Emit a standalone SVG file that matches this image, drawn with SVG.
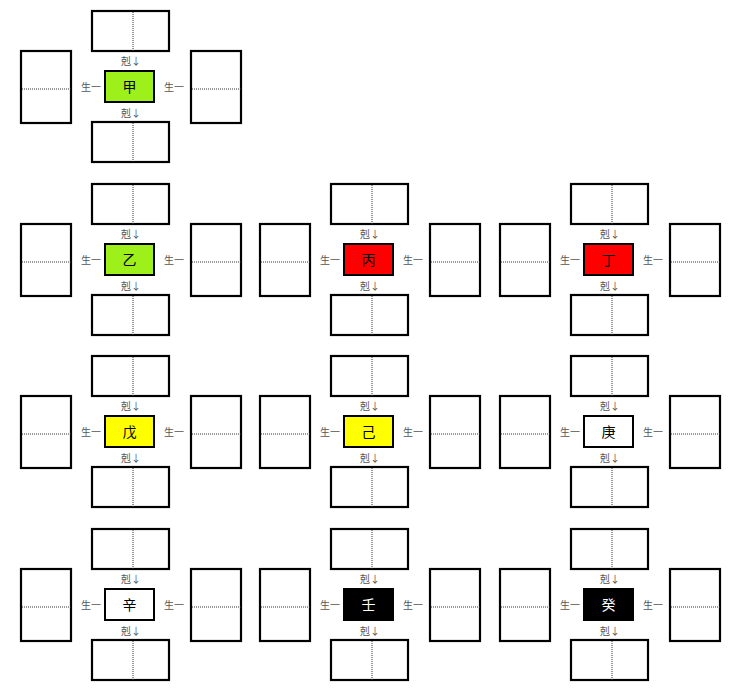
<svg xmlns="http://www.w3.org/2000/svg" xmlns:xlink="http://www.w3.org/1999/xlink" width="736" height="700" viewBox="0 0 736 700">
<style>
.box{fill:#fff;stroke:#000;stroke-width:2.2}
.dot{stroke:#333;stroke-width:1;stroke-dasharray:1 1;fill:none}
.lbl{font-family:"Noto Sans CJK SC","Liberation Sans",sans-serif;font-size:10px;fill:#555}
.ctr{stroke:#000;stroke-width:2}
.ct{font-family:"Noto Sans CJK SC","Liberation Sans",sans-serif;font-size:14px;text-anchor:middle}
</style>
<defs>
<g id="hbox"><rect class="box" x="0" y="0" width="77" height="40"/><line class="dot" x1="41" y1="1" x2="41" y2="40"/></g>
<g id="vbox"><rect class="box" x="0" y="0" width="50" height="72"/><line class="dot" x1="1" y1="38" x2="50" y2="38"/></g>
<g id="links">
<text class="lbl" x="131" y="65" text-anchor="middle">剋↓</text>
<text class="lbl" x="131" y="117" text-anchor="middle">剋↓</text>
<text class="lbl" x="91" y="91" text-anchor="middle">生一</text>
<text class="lbl" x="174" y="91" text-anchor="middle">生一</text>
</g>
</defs>
<rect x="0" y="0" width="736" height="700" fill="#fff"/>

<g id="cluster-jia" transform="translate(0,0)">
<g id="jia-top"><use xlink:href="#hbox" x="92" y="11"/></g>
<g id="jia-bottom"><use xlink:href="#hbox" x="92" y="122"/></g>
<g id="jia-left"><use xlink:href="#vbox" x="21" y="51"/></g>
<g id="jia-right"><use xlink:href="#vbox" x="191" y="51"/></g>
<g id="jia"><rect class="ctr" x="105" y="71" width="49" height="31" fill="#9ef01a"/><text class="ct" x="129.5" y="92" fill="#000">甲</text></g>
<g id="jia-connectors"><use xlink:href="#links"/></g>
</g>

<g id="cluster-yi" transform="translate(0,173)">
<g id="yi-top"><use xlink:href="#hbox" x="92" y="11"/></g>
<g id="yi-bottom"><use xlink:href="#hbox" x="92" y="122"/></g>
<g id="yi-left"><use xlink:href="#vbox" x="21" y="51"/></g>
<g id="yi-right"><use xlink:href="#vbox" x="191" y="51"/></g>
<g id="yi"><rect class="ctr" x="105" y="71" width="49" height="31" fill="#9ef01a"/><text class="ct" x="129.5" y="92" fill="#000">乙</text></g>
<g id="yi-connectors"><use xlink:href="#links"/></g>
</g>

<g id="cluster-bing" transform="translate(239,173)">
<g id="bing-top"><use xlink:href="#hbox" x="92" y="11"/></g>
<g id="bing-bottom"><use xlink:href="#hbox" x="92" y="122"/></g>
<g id="bing-left"><use xlink:href="#vbox" x="21" y="51"/></g>
<g id="bing-right"><use xlink:href="#vbox" x="191" y="51"/></g>
<g id="bing"><rect class="ctr" x="105" y="71" width="49" height="31" fill="#ff0000"/><text class="ct" x="129.5" y="92" fill="#000">丙</text></g>
<g id="bing-connectors"><use xlink:href="#links"/></g>
</g>

<g id="cluster-ding" transform="translate(479,173)">
<g id="ding-top"><use xlink:href="#hbox" x="92" y="11"/></g>
<g id="ding-bottom"><use xlink:href="#hbox" x="92" y="122"/></g>
<g id="ding-left"><use xlink:href="#vbox" x="21" y="51"/></g>
<g id="ding-right"><use xlink:href="#vbox" x="191" y="51"/></g>
<g id="ding"><rect class="ctr" x="105" y="71" width="49" height="31" fill="#ff0000"/><text class="ct" x="129.5" y="92" fill="#000">丁</text></g>
<g id="ding-connectors"><use xlink:href="#links"/></g>
</g>

<g id="cluster-wu" transform="translate(0,345)">
<g id="wu-top"><use xlink:href="#hbox" x="92" y="11"/></g>
<g id="wu-bottom"><use xlink:href="#hbox" x="92" y="122"/></g>
<g id="wu-left"><use xlink:href="#vbox" x="21" y="51"/></g>
<g id="wu-right"><use xlink:href="#vbox" x="191" y="51"/></g>
<g id="wu"><rect class="ctr" x="105" y="71" width="49" height="31" fill="#ffff00"/><text class="ct" x="129.5" y="92" fill="#000">戊</text></g>
<g id="wu-connectors"><use xlink:href="#links"/></g>
</g>

<g id="cluster-ji" transform="translate(239,345)">
<g id="ji-top"><use xlink:href="#hbox" x="92" y="11"/></g>
<g id="ji-bottom"><use xlink:href="#hbox" x="92" y="122"/></g>
<g id="ji-left"><use xlink:href="#vbox" x="21" y="51"/></g>
<g id="ji-right"><use xlink:href="#vbox" x="191" y="51"/></g>
<g id="ji"><rect class="ctr" x="105" y="71" width="49" height="31" fill="#ffff00"/><text class="ct" x="129.5" y="92" fill="#000">己</text></g>
<g id="ji-connectors"><use xlink:href="#links"/></g>
</g>

<g id="cluster-geng" transform="translate(479,345)">
<g id="geng-top"><use xlink:href="#hbox" x="92" y="11"/></g>
<g id="geng-bottom"><use xlink:href="#hbox" x="92" y="122"/></g>
<g id="geng-left"><use xlink:href="#vbox" x="21" y="51"/></g>
<g id="geng-right"><use xlink:href="#vbox" x="191" y="51"/></g>
<g id="geng"><rect class="ctr" x="105" y="71" width="49" height="31" fill="#ffffff"/><text class="ct" x="129.5" y="92" fill="#000">庚</text></g>
<g id="geng-connectors"><use xlink:href="#links"/></g>
</g>

<g id="cluster-xin" transform="translate(0,518)">
<g id="xin-top"><use xlink:href="#hbox" x="92" y="11"/></g>
<g id="xin-bottom"><use xlink:href="#hbox" x="92" y="122"/></g>
<g id="xin-left"><use xlink:href="#vbox" x="21" y="51"/></g>
<g id="xin-right"><use xlink:href="#vbox" x="191" y="51"/></g>
<g id="xin"><rect class="ctr" x="105" y="71" width="49" height="31" fill="#ffffff"/><text class="ct" x="129.5" y="92" fill="#000">辛</text></g>
<g id="xin-connectors"><use xlink:href="#links"/></g>
</g>

<g id="cluster-ren" transform="translate(239,518)">
<g id="ren-top"><use xlink:href="#hbox" x="92" y="11"/></g>
<g id="ren-bottom"><use xlink:href="#hbox" x="92" y="122"/></g>
<g id="ren-left"><use xlink:href="#vbox" x="21" y="51"/></g>
<g id="ren-right"><use xlink:href="#vbox" x="191" y="51"/></g>
<g id="ren"><rect class="ctr" x="105" y="71" width="49" height="31" fill="#000000"/><text class="ct" x="129.5" y="92" fill="#fff">壬</text></g>
<g id="ren-connectors"><use xlink:href="#links"/></g>
</g>

<g id="cluster-gui" transform="translate(479,518)">
<g id="gui-top"><use xlink:href="#hbox" x="92" y="11"/></g>
<g id="gui-bottom"><use xlink:href="#hbox" x="92" y="122"/></g>
<g id="gui-left"><use xlink:href="#vbox" x="21" y="51"/></g>
<g id="gui-right"><use xlink:href="#vbox" x="191" y="51"/></g>
<g id="gui"><rect class="ctr" x="105" y="71" width="49" height="31" fill="#000000"/><text class="ct" x="129.5" y="92" fill="#fff">癸</text></g>
<g id="gui-connectors"><use xlink:href="#links"/></g>
</g>
</svg>
